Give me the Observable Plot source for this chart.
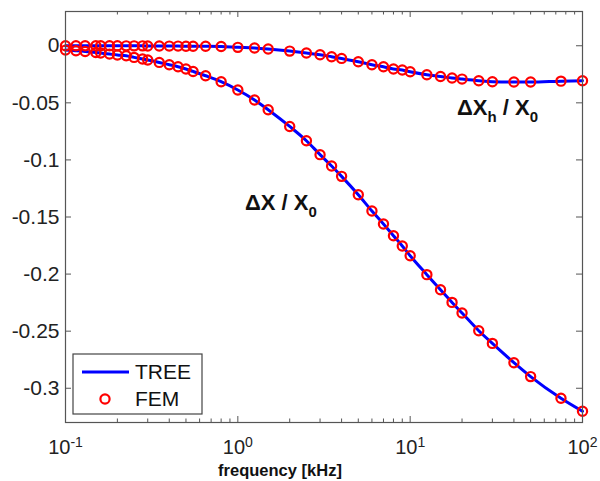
<!DOCTYPE html>
<html><head><meta charset="utf-8">
<script src="https://cdn.jsdelivr.net/npm/d3@7"></script>
<script src="https://cdn.jsdelivr.net/npm/@observablehq/plot@0.6"></script>
<style>body{margin:0;background:#fff;} svg{display:block}</style>
</head><body><div id="chart"></div>
<script>
// frequency samples [kHz]
const freq = [0.1, 0.115, 0.13, 0.15, 0.16, 0.18, 0.2, 0.225, 0.25, 0.28, 0.3, 0.35, 0.4, 0.45, 0.5, 0.55, 0.65, 0.8,
  1, 1.25, 1.5, 2, 2.5, 3, 3.5, 4, 5, 6, 7, 8, 9, 10, 12.5, 15, 17.5, 20, 25, 30, 40, 50, 75, 100];
// ΔX / X0
const dX = [-0.0038, -0.0044, -0.0050, -0.0059, -0.0064, -0.0073, -0.0081, -0.0088, -0.0102, -0.0116, -0.0125, -0.0146,
  -0.0166, -0.0184, -0.0204, -0.0225, -0.0263, -0.0315, -0.0388, -0.0475, -0.0560, -0.0707, -0.0832, -0.0954, -0.1053,
  -0.1144, -0.1305, -0.1447, -0.1561, -0.1664, -0.1754, -0.1839, -0.2005, -0.2137, -0.2248, -0.2341, -0.2496, -0.2607,
  -0.2776, -0.2898, -0.3088, -0.3202];
// ΔXh / X0
const dXh = [0, 0, 0, 0, 0, 0, 0, -0.0001, -0.0001, -0.0001, -0.0002, -0.0002, -0.0003, -0.0003, -0.0004, -0.0004, -0.0005,
  -0.0007, -0.0014, -0.0020, -0.0029, -0.0047, -0.0064, -0.0079, -0.0096, -0.0111, -0.0140, -0.0166, -0.0184, -0.0204,
  -0.0213, -0.0228, -0.0254, -0.0269, -0.0283, -0.0292, -0.0306, -0.0315, -0.0318, -0.0318, -0.0310, -0.0306];

const yTicks = [0, -0.05, -0.1, -0.15, -0.2, -0.25, -0.3];
const xMajor = [0.1, 1, 10, 100];
const xMinor = [0.2,0.3,0.4,0.5,0.6,0.7,0.8,0.9, 2,3,4,5,6,7,8,9, 20,30,40,50,60,70,80,90];
const seriesNames = ["TREE", "FEM"];
const xLabel = "frequency [kHz]";

const rows = freq.map((f, i) => ({f, dx: dX[i], dxh: dXh[i]}));
const axisColor = "#555";
const W = 600, H = 481, mL = 65, mR = 18, mT = 11, mB = 59;
const pw = W - mL - mR, ph = H - mT - mB;

const plot = Plot.plot({
  width: W, height: H,
  marginLeft: mL, marginRight: mR, marginTop: mT, marginBottom: mB,
  style: {fontFamily: "'Liberation Sans', Arial, sans-serif", fontSize: "20px", background: "#fff", color: "#222"},
  x: {type: "log", domain: [0.1, 100]},
  y: {domain: [-0.33, 0.03]},
  marks: [
    // inward ticks (Matlab style box)
    Plot.tickX(xMajor, {x: d => d, stroke: axisColor, insetTop: ph - 6}),
    Plot.tickX(xMajor, {x: d => d, stroke: axisColor, insetBottom: ph - 6}),
    Plot.tickX(xMinor, {x: d => d, stroke: axisColor, insetTop: ph - 3.5}),
    Plot.tickX(xMinor, {x: d => d, stroke: axisColor, insetBottom: ph - 3.5}),
    Plot.tickY(yTicks, {y: d => d, stroke: axisColor, insetRight: pw - 6}),
    Plot.tickY(yTicks, {y: d => d, stroke: axisColor, insetLeft: pw - 6}),
    Plot.line(rows, {x: "f", y: "dx", stroke: "#0000ff", strokeWidth: 3, curve: "monotone-x"}),
    Plot.line(rows, {x: "f", y: "dxh", stroke: "#0000ff", strokeWidth: 3, curve: "monotone-x"}),
    Plot.dot(rows, {x: "f", y: "dx", r: 4.6, stroke: "#ff0000", strokeWidth: 2.2, fill: "none"}),
    Plot.dot(rows, {x: "f", y: "dxh", r: 4.6, stroke: "#ff0000", strokeWidth: 2.2, fill: "none"}),
    Plot.axisY({anchor: "left", ticks: yTicks, tickSize: 0, tickPadding: 6, fontSize: 21,
      tickFormat: d => d === 0 ? "0" : String(d), label: null}),
    Plot.axisX({anchor: "bottom", ticks: xMajor, tickSize: 0, tickPadding: 17,
      tickFormat: d => "10^" + Math.round(Math.log10(d)), label: null}),
    Plot.frame({stroke: axisColor, strokeWidth: 1.2})
  ]
});
document.getElementById("chart").append(plot);

const svg = d3.select(plot);
// superscript exponents on x tick labels
svg.selectAll("text").each(function() {
  const t = this.textContent;
  if (/^10\^/.test(t)) {
    const exp = t.slice(3);
    const sel = d3.select(this);
    sel.text("");
    sel.append("tspan").text("10");
    sel.append("tspan").attr("font-size", 14).attr("dy", "-0.45em").text(exp);
  }
});

// x axis title
svg.append("text").attr("x", 280).attr("y", 476).attr("text-anchor", "middle")
  .attr("font-size", 16.5).attr("font-weight", "bold").attr("fill", "#111").text(xLabel);

// annotations
const ann1 = svg.append("text").attr("x", 245).attr("y", 210).attr("text-anchor", "start")
  .attr("font-size", 22).attr("font-weight", "bold").attr("fill", "#111");
ann1.append("tspan").text("\u0394X / X");
ann1.append("tspan").attr("font-size", 15).attr("dy", 7).text("0");
const ann2 = svg.append("text").attr("x", 457).attr("y", 115).attr("text-anchor", "start")
  .attr("font-size", 22).attr("font-weight", "bold").attr("fill", "#111");
ann2.append("tspan").text("\u0394X");
ann2.append("tspan").attr("font-size", 15).attr("dy", 7).text("h");
ann2.append("tspan").attr("dy", -7).text(" / X");
ann2.append("tspan").attr("font-size", 15).attr("dy", 7).text("0");

// legend
const lg = svg.append("g").attr("text-anchor", "start");
lg.append("rect").attr("x", 73).attr("y", 354).attr("width", 129).attr("height", 60)
  .attr("fill", "#fff").attr("stroke", "#444").attr("stroke-width", 1.2);
lg.append("line").attr("x1", 82).attr("x2", 129).attr("y1", 372).attr("y2", 372)
  .attr("stroke", "#0000ff").attr("stroke-width", 3);
lg.append("circle").attr("cx", 105).attr("cy", 399).attr("r", 4.6)
  .attr("fill", "none").attr("stroke", "#ff0000").attr("stroke-width", 2.2);
lg.append("text").attr("x", 135).attr("y", 372).attr("dy", "0.35em").attr("font-size", 21).attr("fill", "#111").text(seriesNames[0]);
lg.append("text").attr("x", 135).attr("y", 399).attr("dy", "0.35em").attr("font-size", 21).attr("fill", "#111").text(seriesNames[1]);
</script>
</body></html>
